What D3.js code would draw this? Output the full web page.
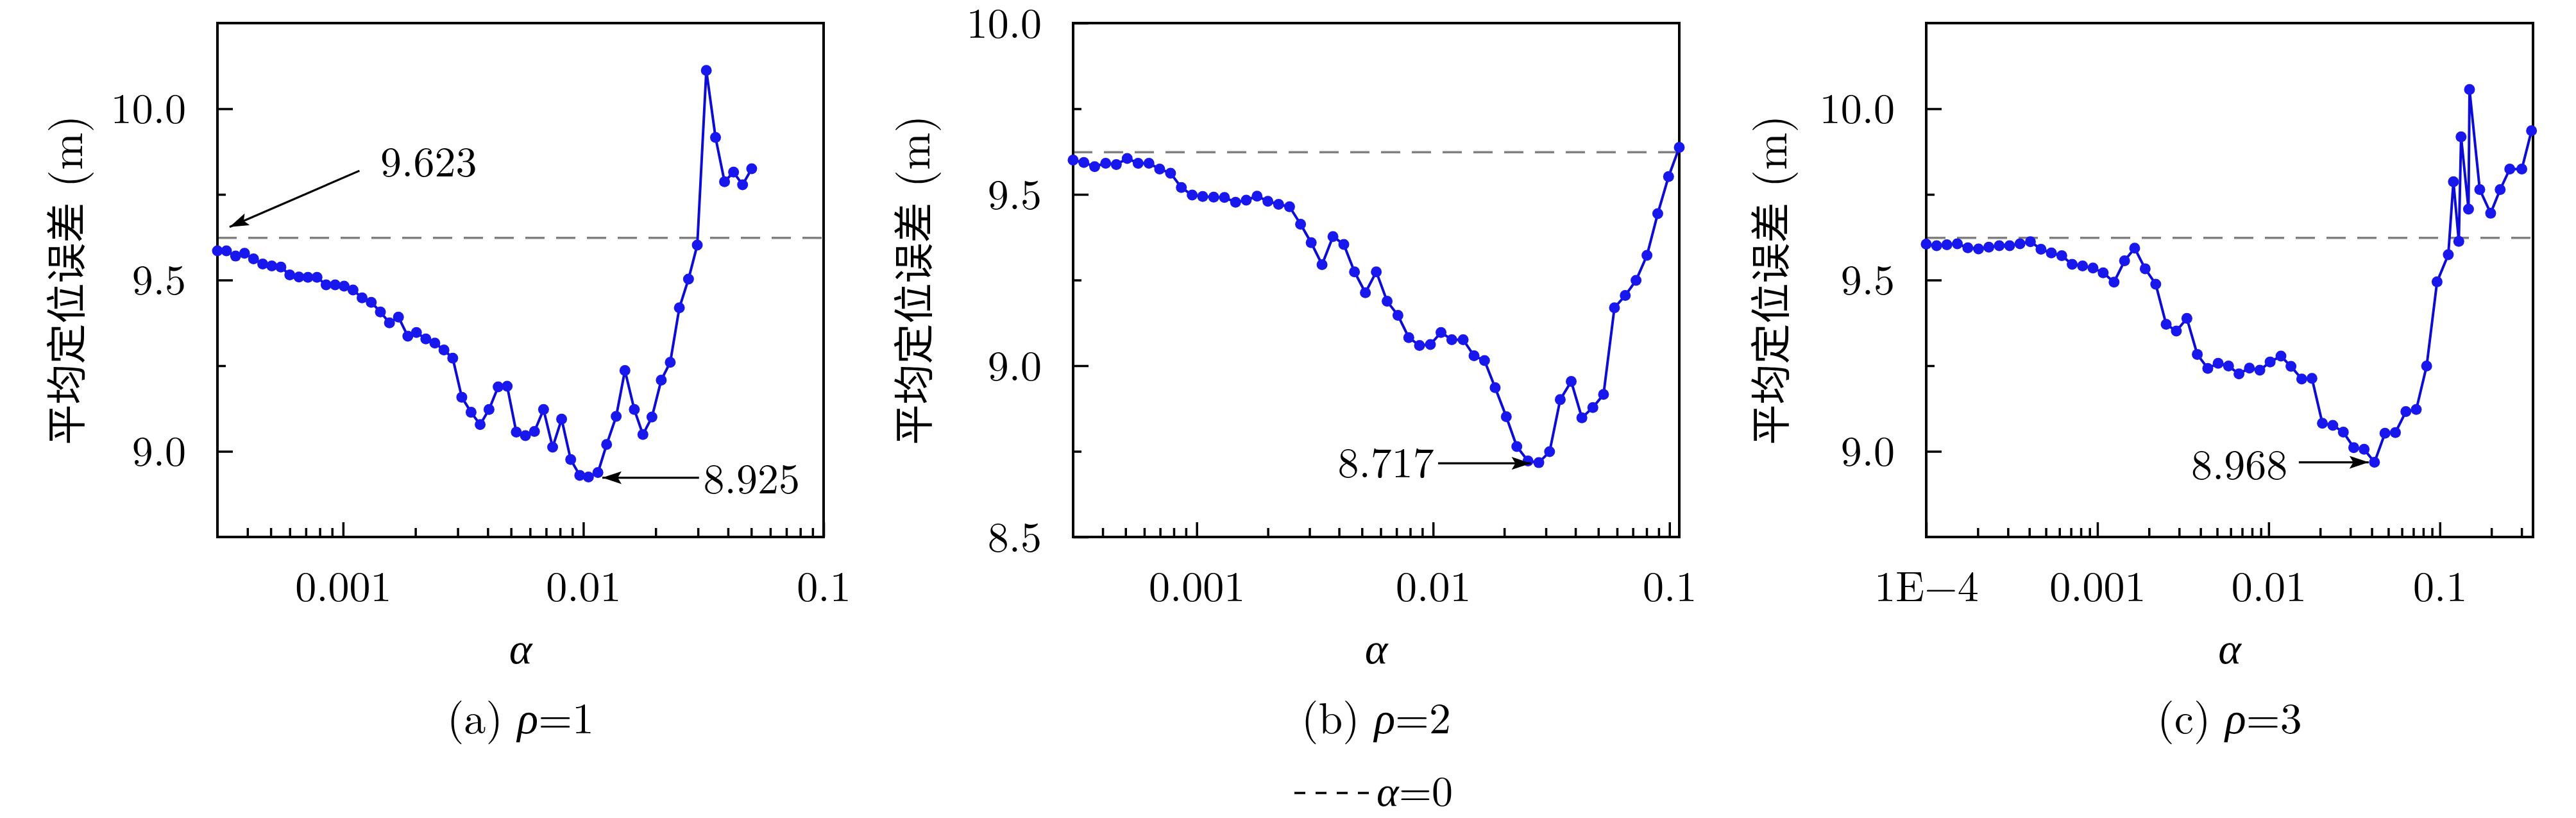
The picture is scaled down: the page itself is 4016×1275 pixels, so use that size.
<!DOCTYPE html>
<html><head><meta charset="utf-8">
<script src="https://cdn.jsdelivr.net/npm/d3@7/dist/d3.min.js"></script>
<style>
html,body{margin:0;padding:0;background:#fff;}
svg{display:block;}
</style></head>
<body>
<svg id="chart" width="4016" height="1275"></svg>
<script>
// ---------------- data ----------------
const baselineErr = 9.623; // alpha = 0

const alphaA = [0.000300,0.000327,0.000357,0.000389,0.000424,0.000463,0.000505,0.000551,0.000600,0.000655,
  0.000714,0.000779,0.000850,0.000927,0.00101,0.00110,0.00120,0.00131,0.00143,0.00156,
  0.00170,0.00186,0.00202,0.00221,0.00241,0.00263,0.00286,0.00312,0.00341,0.00372,
  0.00405,0.00442,0.00482,0.00526,0.00574,0.00626,0.00683,0.00745,0.00812,0.00886,
  0.00966,0.0105,0.0115,0.0125,0.0137,0.0149,0.0163,0.0177,0.0193,0.0211,
  0.0230,0.0251,0.0274,0.0298,0.0325,0.0355,0.0387,0.0422,0.0460,0.0502];
const errA = [9.585,9.585,9.570,9.578,9.562,9.547,9.541,9.538,9.515,9.509,
  9.508,9.508,9.486,9.486,9.482,9.471,9.448,9.435,9.407,9.375,
  9.392,9.336,9.347,9.328,9.316,9.296,9.272,9.158,9.114,9.078,
  9.122,9.188,9.190,9.056,9.046,9.058,9.122,9.012,9.094,8.976,
  8.930,8.925,8.938,9.020,9.102,9.236,9.122,9.049,9.100,9.208,
  9.260,9.419,9.503,9.602,10.112,9.916,9.787,9.815,9.778,9.825];

const alphaB = [0.000300,0.000333,0.000370,0.000412,0.000457,0.000508,0.000565,0.000628,0.000697,0.000775,
  0.000861,0.000957,0.00106,0.00118,0.00131,0.00146,0.00162,0.00180,0.00200,0.00222,
  0.00247,0.00275,0.00305,0.00339,0.00377,0.00419,0.00465,0.00517,0.00575,0.00639,
  0.00710,0.00789,0.00876,0.00974,0.0108,0.0120,0.0134,0.0149,0.0165,0.0183,
  0.0204,0.0226,0.0252,0.0280,0.0311,0.0345,0.0384,0.0426,0.0474,0.0526,
  0.0585,0.0650,0.0722,0.0803,0.0892,0.0991,0.110];
const errB = [9.600,9.593,9.581,9.591,9.587,9.605,9.591,9.591,9.574,9.562,
  9.520,9.498,9.494,9.492,9.491,9.477,9.483,9.495,9.480,9.471,
  9.464,9.413,9.359,9.295,9.377,9.354,9.274,9.213,9.274,9.188,
  9.147,9.082,9.059,9.062,9.097,9.076,9.076,9.029,9.015,8.936,
  8.851,8.764,8.722,8.717,8.749,8.901,8.954,8.848,8.878,8.916,
  9.169,9.205,9.249,9.322,9.444,9.552,9.637];

const alphaC = [0.000100,0.000115,0.000132,0.000152,0.000175,0.000202,0.000232,0.000267,0.000307,0.000353,
  0.000406,0.000468,0.000538,0.000619,0.000712,0.000819,0.000942,0.00108,0.00125,0.00144,
  0.00165,0.00190,0.00219,0.00252,0.00289,0.00333,0.00383,0.00441,0.00507,0.00583,
  0.00671,0.00772,0.00888,0.0102,0.0118,0.0135,0.0156,0.0179,0.0206,0.0237,
  0.0273,0.0314,0.0361,0.0415,0.0478,0.0550,0.0633,0.0728,0.0837,0.0963,
  0.112,0.120,0.129,0.133,0.147,0.149,0.171,0.198,0.225,0.256,
  0.301,0.343];
const errC = [9.605,9.600,9.603,9.606,9.594,9.591,9.596,9.600,9.600,9.606,
  9.612,9.590,9.579,9.571,9.546,9.541,9.535,9.521,9.494,9.556,
  9.593,9.533,9.488,9.371,9.351,9.388,9.283,9.242,9.257,9.249,
  9.226,9.243,9.237,9.261,9.278,9.248,9.211,9.213,9.082,9.076,
  9.056,9.011,9.006,8.968,9.053,9.055,9.116,9.122,9.249,9.495,
  9.574,9.787,9.613,9.918,9.707,10.056,9.764,9.695,9.764,9.824,
  9.824,9.936];

const xTickValsAB = [0.001, 0.01, 0.1];
const xTickLabelsAB = ["0.001", "0.01", "0.1"];
const xTickValsC = [0.0001, 0.001, 0.01, 0.1];
const xTickLabelsC = ["1E\u22124", "0.001", "0.01", "0.1"];
const yTickValsAC = [9.0, 9.5, 10.0];
const yTickValsB = [8.5, 9.0, 9.5, 10.0];
const yMinorAC = [9.25, 9.75];
const yMinorB = [8.75, 9.25, 9.75];

const captionLetters = ["(a)", "(b)", "(c)"];
const rhoValues = ["1", "2", "3"];
const yTitleCJK = "平均定位误差";
const yTitleUnit = "(m)";
const xTitle = "α";
const legendLabel = "α=0";

// annotations (data space)
const annotA = [
  {label:"9.623", tip:[3.37e-4, 9.655], tail:[1.17e-3, 9.819], text:[1.43e-3, 9.802], anchor:"start"},
  {label:"8.925", tip:[0.0120, 8.923], tail:[0.0303, 8.923], text:[0.0316, 8.877], anchor:"start"}
];
const annotB = [
  {label:"8.717", tip:[0.0259, 8.715], tail:[0.0105, 8.715], text:[0.0101, 8.674], anchor:"end"}
];
const annotC = [
  {label:"8.968", tip:[0.0384, 8.968], tail:[0.0150, 8.968], text:[0.0129, 8.918], anchor:"end"}
];

// ---------------- layout ----------------
const SERIF = "'Latin Modern Roman','CMU Serif','Liberation Serif','DejaVu Serif',serif";
const CJK = "'Noto Sans CJK SC','Noto Sans CJK JP',sans-serif";
const BLUE_LINE = "#0c0cd4";
const BLUE_DOT = "#1717ee";

const panels = [
  {left:339, right:1284, top:36, bottom:837, xd:[3e-4,0.1], yd:[8.75,10.25],
   xt:xTickValsAB, xl:xTickLabelsAB, yt:yTickValsAC, ym:yMinorAC, ax:alphaA, ey:errA, ann:annotA, ytx:98},
  {left:1673, right:2618, top:36, bottom:837, xd:[3e-4,0.11], yd:[8.5,10.0],
   xt:xTickValsAB, xl:xTickLabelsAB, yt:yTickValsB, ym:yMinorB, ax:alphaB, ey:errB, ann:annotB, ytx:1419},
  {left:3003, right:3949, top:36, bottom:837, xd:[1e-4,0.35], yd:[8.75,10.25],
   xt:xTickValsC, xl:xTickLabelsC, yt:yTickValsAC, ym:yMinorAC, ax:alphaC, ey:errC, ann:annotC, ytx:2755}
];

const svg = d3.select("#chart");
svg.append("rect").attr("width",4016).attr("height",1275).attr("fill","#ffffff");

const defs = svg.append("defs");
defs.append("marker").attr("id","arrowhead")
  .attr("markerUnits","userSpaceOnUse")
  .attr("viewBox","0 0 30 20").attr("refX",30).attr("refY",10)
  .attr("markerWidth",30).attr("markerHeight",20).attr("orient","auto")
  .append("path").attr("d","M0,0 L30,10 L0,20 L6,10 Z").attr("fill","#000");

function minorTicks(domain){
  const out = [];
  const lo = Math.floor(Math.log10(domain[0])), hi = Math.ceil(Math.log10(domain[1]));
  for (let e = lo; e <= hi; e++) {
    for (let m = 2; m <= 9; m++) {
      const v = m * Math.pow(10, e);
      if (v > domain[0]*1.001 && v < domain[1]*0.999) out.push(v);
    }
  }
  return out;
}

panels.forEach((p, i) => {
  const x = d3.scaleLog().domain(p.xd).range([p.left, p.right]);
  const y = d3.scaleLinear().domain(p.yd).range([p.bottom, p.top]);
  const g = svg.append("g");

  const xa = g.append("g").attr("transform",`translate(0,${p.bottom})`)
    .call(d3.axisBottom(x).tickValues(p.xt).tickSize(-23).tickPadding(53)
      .tickFormat((d,j)=>p.xl[j]));
  const xm = g.append("g").attr("transform",`translate(0,${p.bottom})`)
    .call(d3.axisBottom(x).tickValues(minorTicks(p.xd)).tickSize(-14).tickFormat(""));
  const ya = g.append("g").attr("transform",`translate(${p.left},0)`)
    .call(d3.axisLeft(y).tickValues(p.yt).tickSize(-24).tickPadding(49).tickFormat(d3.format(".1f")));
  const ymn = g.append("g").attr("transform",`translate(${p.left},0)`)
    .call(d3.axisLeft(y).tickValues(p.ym).tickSize(-13).tickFormat(""));

  [xa, xm, ya, ymn].forEach(a => {
    a.select(".domain").remove();
    a.selectAll(".tick line").attr("stroke","#000").attr("stroke-width",3.5);
    a.selectAll(".tick text").attr("font-family",SERIF).attr("font-size",66).attr("fill","#000");
  });
  ya.selectAll(".tick text").attr("dy","0.34em");

  g.append("line")
    .attr("x1",p.left).attr("x2",p.right)
    .attr("y1",y(baselineErr)).attr("y2",y(baselineErr))
    .attr("stroke","#808080").attr("stroke-width",3.5).attr("stroke-dasharray","30,18");

  g.append("rect").attr("x",p.left).attr("y",p.top)
    .attr("width",p.right-p.left).attr("height",p.bottom-p.top)
    .attr("fill","none").attr("stroke","#000").attr("stroke-width",4);

  const pts = p.ax.map((a,j)=>[a, p.ey[j]]);
  g.append("path").datum(pts)
    .attr("d", d3.line().x(d=>x(d[0])).y(d=>y(d[1])))
    .attr("fill","none").attr("stroke",BLUE_LINE).attr("stroke-width",4).attr("stroke-linejoin","round");
  g.selectAll("circle.pt").data(pts).enter().append("circle")
    .attr("class","pt").attr("cx",d=>x(d[0])).attr("cy",d=>y(d[1])).attr("r",8.5)
    .attr("fill",BLUE_DOT);

  p.ann.forEach(a => {
    g.append("line")
      .attr("x1",x(a.tail[0])).attr("y1",y(a.tail[1]))
      .attr("x2",x(a.tip[0])).attr("y2",y(a.tip[1]))
      .attr("stroke","#000").attr("stroke-width",3.2)
      .attr("marker-end","url(#arrowhead)");
    g.append("text").attr("x",x(a.text[0])).attr("y",y(a.text[1]))
      .attr("text-anchor",a.anchor).attr("font-family",SERIF).attr("font-size",66)
      .attr("fill","#000").text(a.label);
  });

  const cx = p.ytx, cy = (p.top + p.bottom)/2;
  const yt = g.append("text").attr("transform",`translate(${cx},${cy}) rotate(-90)`)
    .attr("text-anchor","middle").attr("dominant-baseline","central").attr("fill","#000");
  yt.append("tspan").attr("font-family",CJK).attr("font-size",63).text(yTitleCJK);
  yt.append("tspan").attr("font-family",SERIF).attr("font-size",70).text(" " + yTitleUnit);

  const mid = (p.left + p.right)/2;
  g.append("text").attr("x",mid).attr("y",1034).attr("text-anchor","middle")
    .attr("font-family",SERIF).attr("font-style","italic").attr("font-size",68).text(xTitle);

  const cap = g.append("text").attr("x",mid).attr("y",1143).attr("text-anchor","middle")
    .attr("font-family",SERIF).attr("font-size",68).attr("fill","#000");
  cap.append("tspan").text(captionLetters[i] + " ");
  cap.append("tspan").attr("font-style","italic").text("ρ");
  cap.append("tspan").text("=" + rhoValues[i]);
});

// legend
const lg = svg.append("g");
const legX = 2018, legY = 1236;
lg.append("line").attr("x1",legX).attr("x2",legX+117).attr("y1",legY).attr("y2",legY)
  .attr("stroke","#000").attr("stroke-width",3.5).attr("stroke-dasharray","17,16");
const lt = lg.append("text").attr("x",legX+128).attr("y",legY+20)
  .attr("font-family",SERIF).attr("font-size",66).attr("fill","#000");
lt.append("tspan").attr("font-style","italic").text(legendLabel.slice(0,1));
lt.append("tspan").text(legendLabel.slice(1));
</script>
</body></html>
